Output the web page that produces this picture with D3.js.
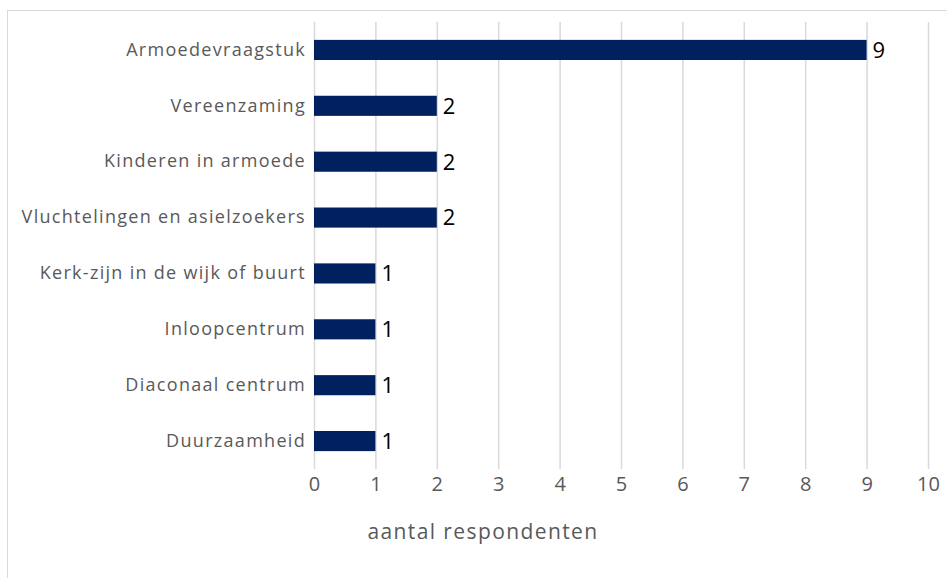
<!DOCTYPE html>
<html>
<head>
<meta charset="utf-8">
<script src="https://cdn.jsdelivr.net/npm/d3@7"></script>
<style>
  body { margin: 0; background: #fff; }
  svg { display: block; }
</style>
</head>
<body>
<div id="chart"></div>
<script>
const categories = [
  "Armoedevraagstuk",
  "Vereenzaming",
  "Kinderen in armoede",
  "Vluchtelingen en asielzoekers",
  "Kerk-zijn in de wijk of buurt",
  "Inloopcentrum",
  "Diaconaal centrum",
  "Duurzaamheid"
];
const counts = [9, 2, 2, 2, 1, 1, 1, 1];
const xTicks = [0, 1, 2, 3, 4, 5, 6, 7, 8, 9, 10];
const xTitle = "aantal respondenten";

const W = 947, H = 578;
const margin = { top: 22, right: 19, bottom: 109, left: 314 };
const width = W - margin.left - margin.right;
const height = H - margin.top - margin.bottom;
const font = "'Open Sans', sans-serif";

const svg = d3.select("#chart").append("svg")
  .attr("width", W).attr("height", H);

// outer frame
svg.append("rect")
  .attr("x", 7.5).attr("y", 10.5)
  .attr("width", W).attr("height", H)
  .attr("fill", "none").attr("stroke", "#d9d9d9").attr("stroke-width", 1);

const g = svg.append("g").attr("transform", `translate(${margin.left},${margin.top})`);

const x = d3.scaleLinear().domain([0, 10]).range([0, width]);
const y = d3.scaleBand().domain(categories).range([0, height]).paddingInner(0.64).paddingOuter(0.32);

// grid
g.append("g")
  .call(d3.axisBottom(x).tickValues(xTicks).tickSize(height).tickFormat(""))
  .call(a => a.selectAll("line").attr("stroke", "#d9d9d9").attr("stroke-width", 1.5))
  .call(a => a.select(".domain").remove());

// bars
g.selectAll("rect.bar")
  .data(categories)
  .enter().append("rect")
  .attr("class", "bar")
  .attr("x", x(0))
  .attr("y", d => y(d))
  .attr("width", (d, i) => x(counts[i]) - x(0))
  .attr("height", y.bandwidth())
  .attr("fill", "#002060");

// value labels
g.selectAll("text.val")
  .data(categories)
  .enter().append("text")
  .attr("class", "val")
  .attr("x", (d, i) => x(counts[i]) + 6)
  .attr("y", d => y(d) + y.bandwidth() / 2)
  .attr("dy", "0.36em")
  .attr("font-family", font)
  .attr("font-size", 22)
  .attr("fill", "#000")
  .text((d, i) => counts[i]);

// y axis labels
g.append("g")
  .call(d3.axisLeft(y).tickSize(0).tickPadding(8))
  .call(a => a.select(".domain").remove())
  .call(a => a.selectAll("text")
    .attr("font-family", font).attr("font-size", 18).attr("letter-spacing", 1.3)
    .attr("fill", "#595959"));

// x axis labels
g.append("g")
  .attr("transform", `translate(0,${height})`)
  .call(d3.axisBottom(x).tickValues(xTicks).tickSize(0).tickPadding(8))
  .call(a => a.select(".domain").remove())
  .call(a => a.selectAll("text")
    .attr("font-family", font).attr("font-size", 20).attr("fill", "#595959"));

// axis title
svg.append("text")
  .attr("x", 483)
  .attr("y", 532)
  .attr("dy", "0.35em")
  .attr("text-anchor", "middle")
  .attr("font-family", font)
  .attr("font-size", 21)
  .attr("letter-spacing", 1.4)
  .attr("fill", "#595959")
  .text(xTitle);
</script>
</body>
</html>
